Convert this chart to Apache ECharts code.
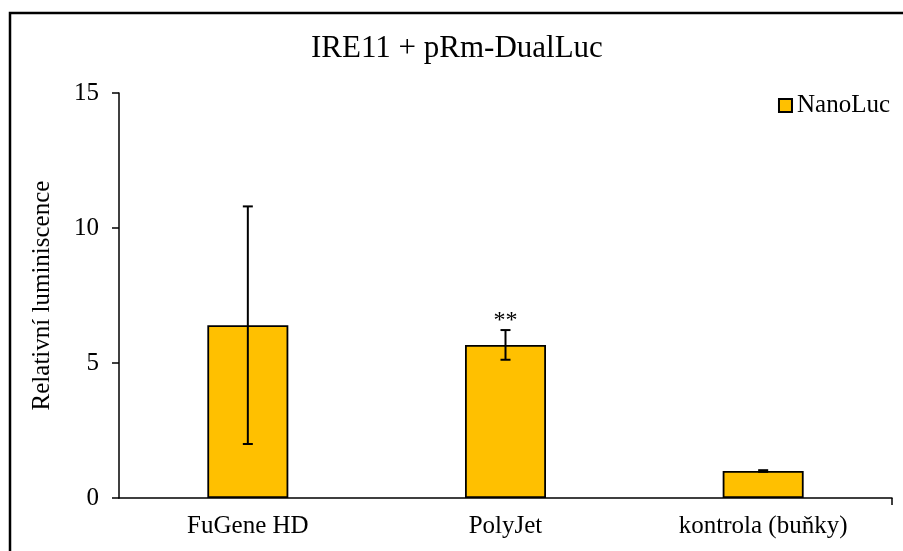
<!DOCTYPE html>
<html>
<head>
<meta charset="utf-8">
<script src="https://cdn.jsdelivr.net/npm/echarts@6/dist/echarts.min.js"></script>
<style>html,body{margin:0;padding:0;background:#fff;}#c{width:903px;height:551px;}</style>
</head>
<body>
<div id="c"></div>
<script>
var categories = ["FuGene HD", "PolyJet", "kontrola (buňky)"];
var values = [6.4, 5.67, 1.0];
var errors = [4.4, 0.55, 0.03];
var annotations = ["", "**", ""];
var yTicks = [0, 5, 10, 15];
var seriesName = "NanoLuc";
var titleText = "IRE11 + pRm-DualLuc";
var yName = "Relativní luminiscence";

var FONT = "Liberation Serif";
var chart = echarts.init(document.getElementById('c'));

var errData = values.map(function (v, i) { return [i, v - errors[i], v + errors[i], annotations[i]]; });

chart.setOption({
  animation: false,
  backgroundColor: '#fff',
  title: {
    text: titleText, left: 311, top: 33, padding: 0,
    textStyle: { fontFamily: FONT, fontSize: 31, fontWeight: 'normal', color: '#000' }
  },
  legend: {
    data: [seriesName], right: 8, top: 88, icon: 'rect', itemWidth: 13, itemHeight: 13, itemGap: 5,
    textStyle: { fontFamily: FONT, fontSize: 25, color: '#000' }
  },
  grid: { left: 119, right: 11, top: 93, bottom: 53 },
  xAxis: {
    type: 'category', data: categories,
    axisLine: { lineStyle: { color: '#000', width: 1.5 } },
    axisTick: { alignWithLabel: true, length: 7, lineStyle: { color: '#000', width: 1.5 } },
    axisLabel: { fontFamily: FONT, fontSize: 25, color: '#000', margin: 16 }
  },
  yAxis: {
    type: 'value', min: yTicks[0], max: yTicks[yTicks.length - 1], interval: yTicks[1] - yTicks[0],
    name: yName, nameLocation: 'middle', nameGap: 64,
    nameTextStyle: { fontFamily: FONT, fontSize: 25, color: '#000' },
    axisLine: { show: true, lineStyle: { color: '#000', width: 1.5 } },
    axisTick: { show: true, length: 7, lineStyle: { color: '#000', width: 1.5 } },
    axisLabel: { fontFamily: FONT, fontSize: 25, color: '#000', margin: 20 },
    splitLine: { show: false }
  },
  series: [
    {
      name: seriesName, type: 'bar', data: values, barWidth: 81,
      itemStyle: { color: '#FFC000', borderColor: '#000', borderWidth: 1.8 }
    },
    {
      type: 'custom', data: errData, z: 10,
      renderItem: function (params, api) {
        var x = api.value(0);
        var lo = api.coord([x, api.value(1)]);
        var hi = api.coord([x, api.value(2)]);
        var cap = 5;
        var st = { stroke: '#000', lineWidth: 2 };
        var children = [
          { type: 'line', shape: { x1: lo[0], y1: lo[1], x2: hi[0], y2: hi[1] }, style: st },
          { type: 'line', shape: { x1: lo[0] - cap, y1: lo[1], x2: lo[0] + cap, y2: lo[1] }, style: st },
          { type: 'line', shape: { x1: hi[0] - cap, y1: hi[1], x2: hi[0] + cap, y2: hi[1] }, style: st }
        ];
        var txt = api.value(3);
        if (txt) {
          children.push({ type: 'text', style: { text: txt, x: hi[0], y: hi[1] + 3, align: 'center', verticalAlign: 'bottom', font: '24px "' + FONT + '"', fill: '#000' } });
        }
        return { type: 'group', children: children };
      }
    }
  ],
  graphic: [
    { type: 'rect', shape: { x: 10, y: 13, width: 1200, height: 1200 }, style: { fill: 'none', stroke: '#000', lineWidth: 2.5 }, silent: true },
    { type: 'line', shape: { x1: 892, y1: 498, x2: 892, y2: 505 }, style: { stroke: '#000', lineWidth: 1.5 }, silent: true }
  ]
});
</script>
</body>
</html>
